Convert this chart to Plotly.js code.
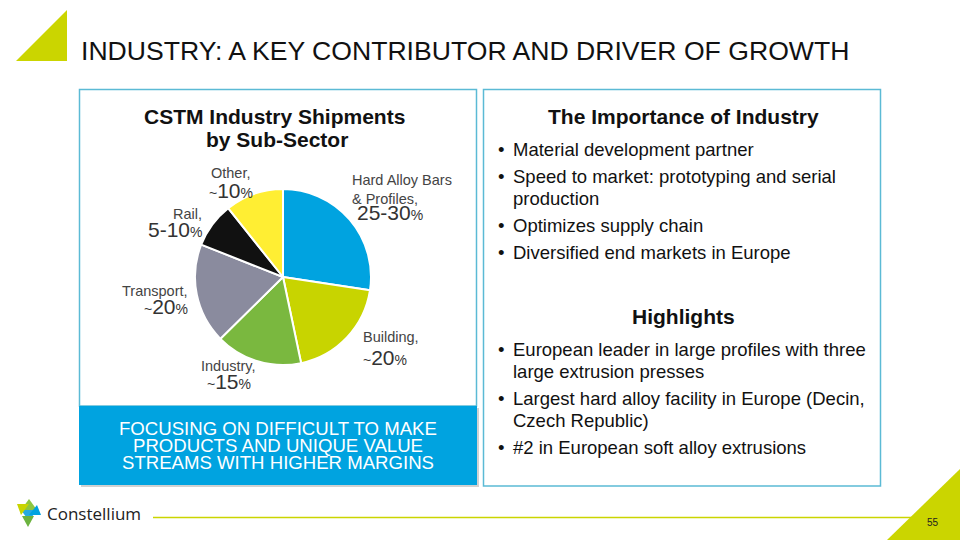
<!DOCTYPE html>
<html><head><meta charset="utf-8">
<script src="https://cdn.plot.ly/plotly-3.0.1.min.js"></script>
<style>html,body{margin:0;padding:0;background:#fff}#chart{width:960px;height:540px}</style>
</head><body><div id="chart"></div>
<script>
// ---- data ----
const sectors = ['Hard Alloy Bars & Profiles', 'Building', 'Industry', 'Transport', 'Rail', 'Other'];
const shares = [27.4, 19.3, 15.9, 18.4, 8.3, 10.7];
const nameLabels = ['Hard Alloy Bars<br>& Profiles,', 'Building,', 'Industry,', 'Transport,', 'Rail,', 'Other,'];
const valuePrefix = ['', '~', '~', '~', '', '~'];
const valueNumbers = ['25-30', '20', '15', '20', '5-10', '10'];
const sliceColors = ['#00A3E0', '#C8D400', '#7AB83F', '#8A8B9E', '#111111', '#FFEE33'];
const pageTitle = 'INDUSTRY: A KEY CONTRIBUTOR AND DRIVER OF GROWTH';
const chartTitle = ['CSTM Industry Shipments', 'by Sub-Sector'];
const bandLines = ['FOCUSING ON DIFFICULT TO MAKE', 'PRODUCTS AND UNIQUE VALUE', 'STREAMS WITH HIGHER MARGINS'];
const rightTitle1 = 'The Importance of Industry';
const bullets1 = [['Material development partner'], ['Speed to market: prototyping and serial', 'production'], ['Optimizes supply chain'], ['Diversified end markets in Europe']];
const rightTitle2 = 'Highlights';
const bullets2 = [['European leader in large profiles with three', 'large extrusion presses'], ['Largest hard alloy facility in Europe (Decin,', 'Czech Republic)'], ['#2 in European soft alloy extrusions']];
const pageNumber = '55';
const brand = 'Constellium';

// ---- layout helpers (pixel positions) ----
const F = 'Liberation Sans, Arial, sans-serif';
const W = 960, H = 540;
const cx = 283, cy = 277, r = 88;
const labelPos = [
  {nx: 350, ny: 189.5, na: 'left', vx: 389.5, vy: 212, va: 'center'},
  {nx: 361, ny: 337, na: 'left', vx: 361, vy: 357, va: 'left'},
  {nx: 228.5, ny: 366, na: 'center', vx: 229, vy: 381, va: 'center'},
  {nx: 190, ny: 291, na: 'right', vx: 190, vy: 306, va: 'right'},
  {nx: 204, ny: 214, na: 'right', vx: 204, vy: 229, va: 'right'},
  {nx: 230.7, ny: 173, na: 'center', vx: 230.5, vy: 190, va: 'center'}
];

const annotations = [];
const shapes = [];
function txt(text, x, y, size, color, anchor, extra) {
  annotations.push(Object.assign({text: text, x: x, y: y, xref: 'x', yref: 'y', showarrow: false,
    xanchor: anchor || 'left', yanchor: 'middle', font: {family: F, size: size, color: color}}, extra || {}));
}
function shp(o) { shapes.push(Object.assign({xref: 'x', yref: 'y', layer: 'below'}, o)); }

// page title & decorations
shp({type: 'path', path: 'M16,61 L67,10 L67,61 Z', fillcolor: '#CBD500', line: {width: 0}});
shp({type: 'path', path: 'M960,469 L960,540 L887,540 Z', fillcolor: '#CBD500', line: {width: 0}});
shp({type: 'line', x0: 153, x1: 925, y0: 517.5, y1: 517.5, line: {color: '#CBD500', width: 1.5}});
txt(pageTitle, 79, 51, 26.6, '#111', 'left');
txt(pageNumber, 933, 522, 10, '#222', 'center');

// logo
shp({type: 'path', path: 'M29,499 L21,510 L37,510 Z', fillcolor: '#8DC63F', line: {width: 0}});
shp({type: 'path', path: 'M21,510 L37,510 L29,521 Z', fillcolor: '#27AAE1', line: {width: 0}});
shp({type: 'path', path: 'M17,504 L29,504 L21,515 Z', fillcolor: '#C8D400', line: {width: 0}});
shp({type: 'path', path: 'M29,515 L41,515 L37,505 Z', fillcolor: '#00A3E0', line: {width: 0}});
shp({type: 'path', path: 'M22,516 L34,516 L28,527 Z', fillcolor: '#6CB33F', line: {width: 0}});
txt(brand, 45, 513, 17, '#222', 'left', {font: {family: 'Open Sans, sans-serif', size: 17, color: '#222'}});

// left panel
shp({type: 'rect', x0: 81, x1: 479, y0: 408, y1: 487, fillcolor: 'rgba(0,0,0,0.18)', line: {width: 0}});
shp({type: 'rect', x0: 79.5, x1: 476.5, y0: 89.5, y1: 406, fillcolor: '#fff', line: {color: '#5BBAD5', width: 1.5}});
shp({type: 'rect', x0: 79, x1: 477, y0: 406, y1: 485, fillcolor: '#00A3E0', line: {width: 0}});
txt('<b>' + chartTitle[0] + '</b>', 274, 116, 21, '#111', 'center');
txt('<b>' + chartTitle[1] + '</b>', 277, 139.5, 21, '#111', 'center');
bandLines.forEach((l, i) => txt(l, 278, 428 + i * 17, 18.6, '#fff', 'center'));

// right panel
shp({type: 'rect', x0: 483.5, x1: 880.5, y0: 89.5, y1: 486, fillcolor: 'rgba(0,0,0,0)', line: {color: '#5BBAD5', width: 1.5}});
txt('<b>' + rightTitle1 + '</b>', 683, 116, 21, '#111', 'center');
txt('<b>' + rightTitle2 + '</b>', 683, 316, 21, '#111', 'center');
function bulletBlock(list, y0) {
  let y = y0;
  list.forEach(b => {
    txt('•', 496, y, 18.5, '#111', 'left');
    b.forEach((line, j) => { txt(line, 511, y, 18.5, '#111', 'left'); y += (j < b.length - 1) ? 22 : 27; });
  });
}
bulletBlock(bullets1, 149);
bulletBlock(bullets2, 349);

// pie labels
sectors.forEach((s, i) => {
  const p = labelPos[i];
  txt(nameLabels[i], p.nx, p.ny, 14.5, '#444', p.na, {align: p.na});
  const v = (valuePrefix[i] ? '<span style="font-size:14px">' + valuePrefix[i] + '</span>' : '') +
    valueNumbers[i] + '<span style="font-size:14px">%</span>';
  txt(v, p.vx, p.vy, 21, '#333', p.va);
});

const pie = {
  type: 'pie', labels: sectors, values: shares, sort: false, direction: 'clockwise', rotation: 0,
  marker: {colors: sliceColors, line: {color: '#fff', width: 2}},
  textinfo: 'none', hoverinfo: 'label+percent', showlegend: false,
  domain: {x: [(cx - r) / W, (cx + r) / W], y: [(H - cy - r) / H, (H - cy + r) / H]}
};
const dummy = {type: 'scatter', x: [0], y: [0], mode: 'markers', marker: {opacity: 0}, hoverinfo: 'skip', showlegend: false};

const layout = {
  width: W, height: H, margin: {l: 0, r: 0, t: 0, b: 0}, paper_bgcolor: '#fff', plot_bgcolor: 'rgba(0,0,0,0)',
  xaxis: {range: [0, W], visible: false, fixedrange: true},
  yaxis: {range: [H, 0], visible: false, fixedrange: true},
  shapes: shapes, annotations: annotations, showlegend: false
};
Plotly.newPlot('chart', [dummy, pie], layout, {displayModeBar: false, staticPlot: true});
</script>
</body></html>
